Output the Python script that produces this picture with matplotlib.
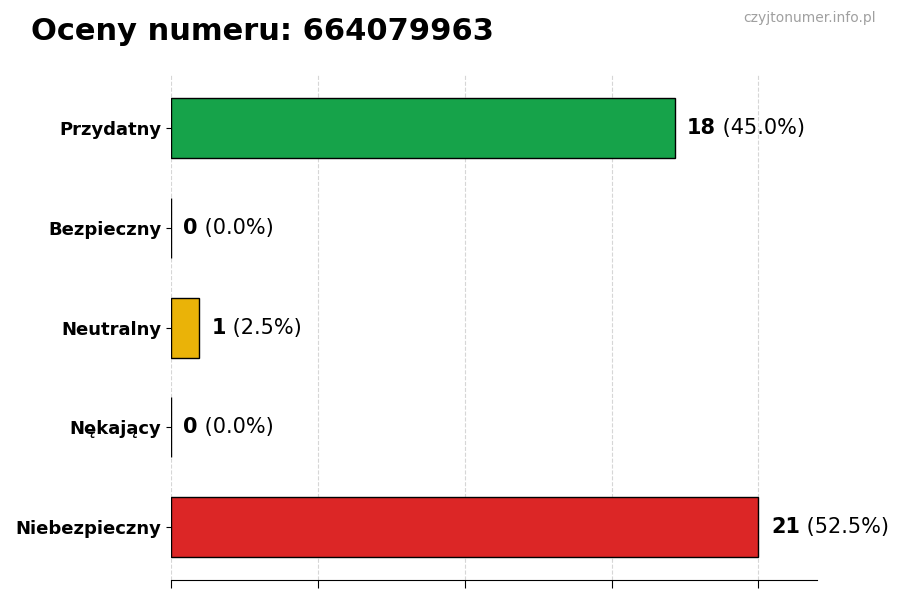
import matplotlib

matplotlib.use("Agg")

import matplotlib.pyplot as plt
import numpy as np

PHONE = "664079963"
CATEGORIES = ["Przydatny", "Bezpieczny", "Neutralny", "Nękający", "Niebezpieczny"]
COUNTS = [18, 0, 1, 0, 21]
COLORS = ["#16a34a", "#9ca3af", "#eab308", "#f97316", "#dc2626"]


def main() -> None:
    total = sum(COUNTS)
    positions = np.arange(len(CATEGORIES))[::-1]
    xmax = max(COUNTS)

    fig = plt.figure(figsize=(9, 6), dpi=100)
    ax = fig.add_axes([0.19, 0.033, 0.718, 0.842])
    ax.barh(
        positions,
        COUNTS,
        height=0.6,
        color=COLORS,
        edgecolor="black",
        linewidth=1,
        zorder=3,
    )
    ax.set_xlim(0, xmax * 1.1)
    ax.set_xticks(np.linspace(0, xmax, 5))
    ax.set_xticklabels([])
    ax.set_yticks(positions)
    ax.set_yticklabels(CATEGORIES, fontsize=13, fontweight="bold")
    ax.grid(True, axis="x", linestyle="--", color="#cccccc", alpha=0.8, zorder=0)
    for side in ("top", "right", "left"):
        ax.spines[side].set_visible(False)
    ax.tick_params(axis="x", length=6)

    for pos, count in zip(positions, COUNTS):
        pct = 100.0 * count / total if total else 0.0
        num = ax.annotate(
            f"{count}",
            xy=(count, pos),
            xytext=(9, 0),
            textcoords="offset points",
            va="center",
            ha="left",
            fontsize=15,
            fontweight="bold",
        )
        ax.annotate(
            f" ({pct:.1f}%)",
            xy=(1, 0.5),
            xycoords=num,
            va="center",
            ha="left",
            fontsize=15,
        )

    fig.text(0.034, 0.948, f"Oceny numeru: {PHONE}", fontsize=22,
             fontweight="bold", va="center", ha="left")
    fig.text(0.973, 0.97, "czyjtonumer.info.pl", fontsize=10,
             color="#a0a0a0", va="center", ha="right")

    fig.savefig("out.png", dpi=100)
    plt.close(fig)


if __name__ == "__main__":
    main()
